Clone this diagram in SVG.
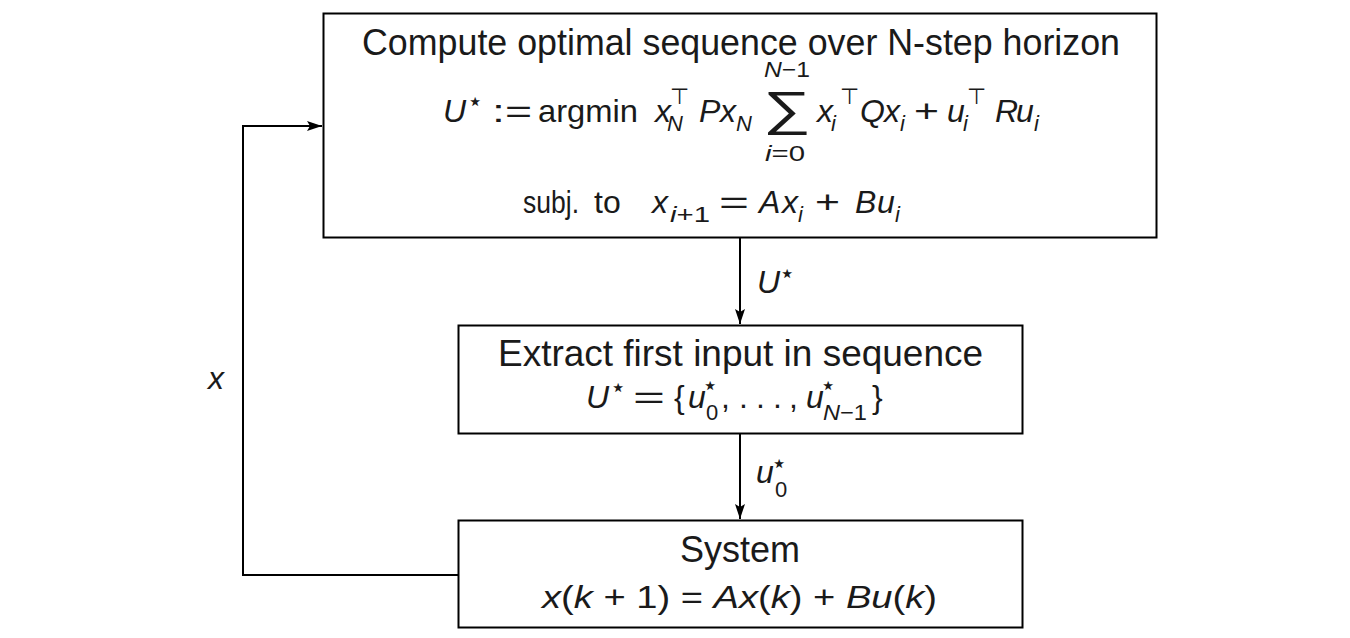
<svg xmlns="http://www.w3.org/2000/svg" width="1350" height="638" viewBox="0 0 1350 638">
<style>
.box{fill:#fff;stroke:#000;stroke-width:2}
.edge{fill:none;stroke:#000;stroke-width:2}
text{font-family:"Liberation Sans","DejaVu Sans",sans-serif;fill:#1a1a1a}
.t{font-size:36px}
.m{font-size:32px}
.i{font-style:italic}
.s{font-size:22px}
.st{font-family:"DejaVu Sans",sans-serif;font-size:26px}
.sum{font-family:"DejaVu Sans",sans-serif;font-size:48px;font-weight:200}
</style>
<defs>
<marker id="arr" markerUnits="userSpaceOnUse" markerWidth="16" markerHeight="12" refX="15" refY="5" orient="auto">
<path d="M0,0 L15,5 L0,10 L3,5 Z" fill="#000"/>
</marker>
</defs>
<rect width="1350" height="638" fill="#fff"/>
<g id="connectors">
<line class="edge" x1="740" y1="238" x2="740" y2="324" marker-end="url(#arr)"/>
<line class="edge" x1="740" y1="434" x2="740" y2="519" marker-end="url(#arr)"/>
<polyline class="edge" points="458,575 243,575 243,126 322,126" marker-end="url(#arr)"/>
<text class="m i" x="757" y="293">U</text>
<text class="st" x="779" y="282">⋆</text>
<text class="m i" x="756" y="483">u</text>
<text class="st" x="771" y="472">⋆</text>
<text class="s" x="775" y="497">0</text>
<text class="m i" x="208" y="389">x</text>
</g>
<g id="node-optimize">
<rect class="box" x="323.5" y="13.5" width="833" height="224"/>
<text class="t" x="362" y="55" textLength="758" lengthAdjust="spacingAndGlyphs">Compute optimal sequence over N-step horizon</text>
<text class="m i" x="443" y="122">U</text>
<text class="st" x="467" y="110">⋆</text>
<text class="m" x="492" y="122" textLength="40" lengthAdjust="spacingAndGlyphs">:=</text>
<text class="m" x="538" y="122" textLength="100" lengthAdjust="spacingAndGlyphs">argmin</text>
<text class="m i" x="655" y="122">x</text>
<text class="s i" x="667" y="131">N</text>
<text class="s" x="670" y="104">⊤</text>
<text class="m i" x="699" y="122">P</text>
<text class="m i" x="720" y="122">x</text>
<text class="s i" x="736" y="131">N</text>
<text class="s" x="764" y="77" textLength="46" lengthAdjust="spacingAndGlyphs"><tspan font-style="italic">N</tspan>−1</text>
<text class="sum" x="763" y="125" textLength="48" lengthAdjust="spacingAndGlyphs">∑</text>
<text class="s" x="765" y="161" textLength="40" lengthAdjust="spacingAndGlyphs"><tspan font-style="italic">i</tspan>=0</text>
<text class="m i" x="817" y="122">x</text>
<text class="s i" x="831" y="131">i</text>
<text class="s" x="840" y="104">⊤</text>
<text class="m i" x="860" y="122">Q</text>
<text class="m i" x="884" y="122">x</text>
<text class="s i" x="900" y="131">i</text>
<text class="m" x="914" y="122" textLength="25" lengthAdjust="spacingAndGlyphs">+</text>
<text class="m i" x="947" y="122">u</text>
<text class="s i" x="963" y="131">i</text>
<text class="s" x="967" y="104">⊤</text>
<text class="m i" x="995" y="122">R</text>
<text class="m i" x="1016" y="122">u</text>
<text class="s i" x="1034" y="131">i</text>
<text class="m" x="523" y="213" textLength="56" lengthAdjust="spacingAndGlyphs">subj.</text>
<text class="m" x="594" y="213">to</text>
<text class="m i" x="652" y="213">x</text>
<text class="s" x="670" y="222" textLength="40" lengthAdjust="spacingAndGlyphs"><tspan font-style="italic">i</tspan>+1</text>
<text class="m" x="719" y="213" textLength="30" lengthAdjust="spacingAndGlyphs">=</text>
<text class="m i" x="759" y="213">A</text>
<text class="m i" x="782" y="213">x</text>
<text class="s i" x="798" y="222">i</text>
<text class="m" x="815" y="213" textLength="25" lengthAdjust="spacingAndGlyphs">+</text>
<text class="m i" x="855" y="213">B</text>
<text class="m i" x="877" y="213">u</text>
<text class="s i" x="895" y="222">i</text>
</g>
<g id="node-extract">
<rect class="box" x="458.5" y="325.5" width="564" height="108"/>
<text class="t" x="498" y="366" textLength="485" lengthAdjust="spacingAndGlyphs">Extract first input in sequence</text>
<text class="m i" x="586" y="408">U</text>
<text class="st" x="610" y="396">⋆</text>
<text class="m" x="633" y="408" textLength="32" lengthAdjust="spacingAndGlyphs">=</text>
<text class="m" x="674" y="408">{</text>
<text class="m i" x="688" y="408">u</text>
<text class="st" x="702" y="394">⋆</text>
<text class="s" x="706" y="420">0</text>
<text class="m" x="721" y="408">,</text>
<text class="m" x="739" y="408">.</text>
<text class="m" x="756" y="408">.</text>
<text class="m" x="773" y="408">.</text>
<text class="m" x="789" y="408">,</text>
<text class="m i" x="806" y="408">u</text>
<text class="st" x="820" y="394">⋆</text>
<text class="s" x="823" y="420" textLength="44" lengthAdjust="spacingAndGlyphs"><tspan font-style="italic">N</tspan>−1</text>
<text class="m" x="872" y="408">}</text>
</g>
<g id="node-system">
<rect class="box" x="458.5" y="520.5" width="564" height="107"/>
<text class="t" x="740" y="562" text-anchor="middle">System</text>
<text class="m" x="542" y="608" textLength="395" lengthAdjust="spacingAndGlyphs"><tspan font-style="italic">x</tspan>(<tspan font-style="italic">k</tspan> + 1) = <tspan font-style="italic">Ax</tspan>(<tspan font-style="italic">k</tspan>) + <tspan font-style="italic">Bu</tspan>(<tspan font-style="italic">k</tspan>)</text>
</g>
</svg>
